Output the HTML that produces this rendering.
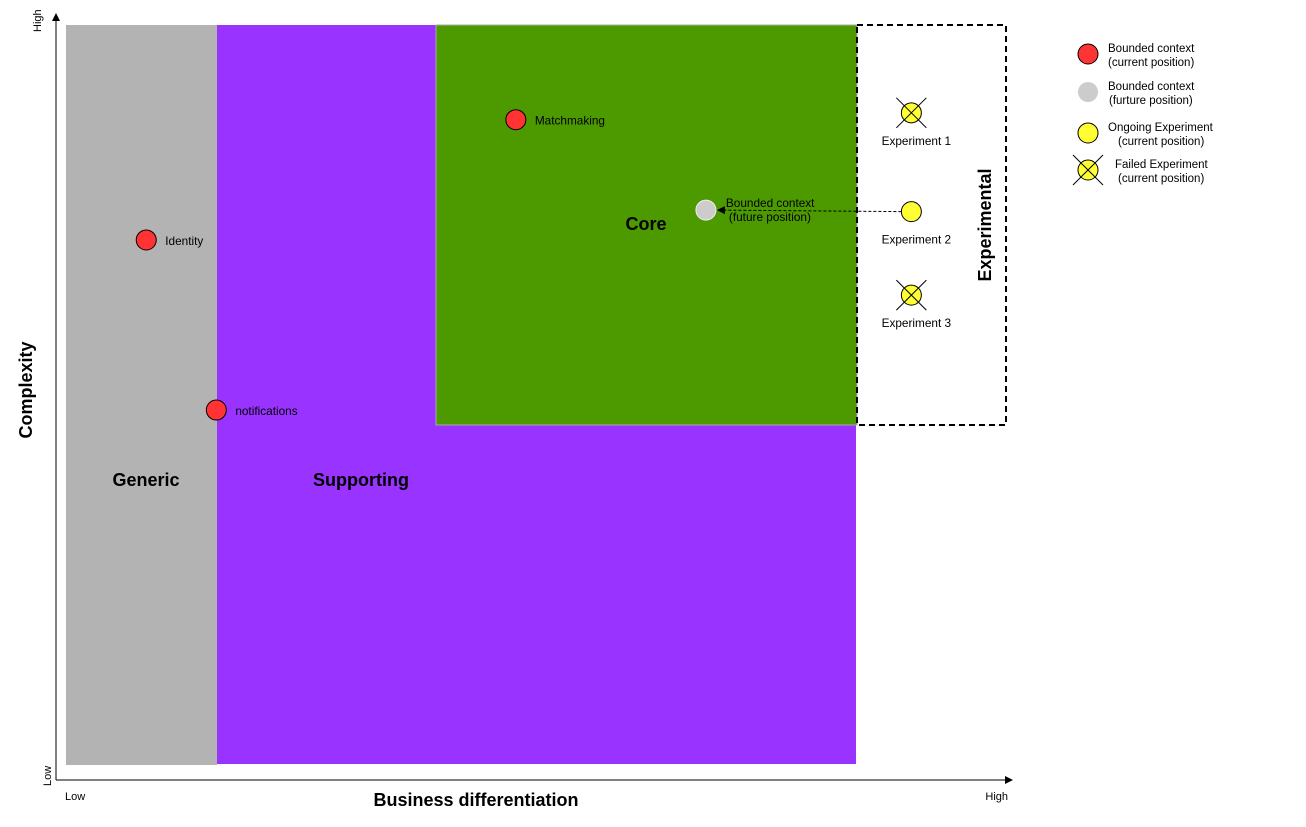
<!DOCTYPE html>
<html><head><meta charset="utf-8"><style>
body{margin:0;background:#fff;}
svg{display:block;font-family:"Liberation Sans",Arial,sans-serif;}
</style></head><body>
<svg width="1306" height="827" viewBox="0 0 1306 827">
<defs><marker id="arr" markerWidth="8" markerHeight="8" refX="7" refY="4" orient="auto"><path d="M0,0 L8,4 L0,8 z" fill="#000"/></marker></defs>
<rect x="66" y="25" width="151" height="740" fill="#b3b3b3"/>
<rect x="217" y="25" width="639" height="739" fill="#9933ff"/>
<rect x="436" y="25" width="421" height="400" fill="#4d9900" stroke="#aaa" stroke-width="1"/>
<rect x="857" y="25" width="149" height="400" fill="none" stroke="#000" stroke-width="2" stroke-dasharray="6,4"/>
<text x="146" y="486" font-size="18" font-weight="bold" text-anchor="middle">Generic</text>
<text x="361" y="486" font-size="18" font-weight="bold" text-anchor="middle">Supporting</text>
<text x="646" y="230" font-size="18" font-weight="bold" text-anchor="middle">Core</text>
<text transform="translate(991,225) rotate(-90)" font-size="18" font-weight="bold" text-anchor="middle">Experimental</text>
<line x1="56" y1="780" x2="1012" y2="780" stroke="#000" marker-end="url(#arr)"/>
<line x1="56" y1="780" x2="56" y2="14" stroke="#000" marker-end="url(#arr)"/>
<text x="476" y="806" font-size="18" font-weight="bold" text-anchor="middle">Business differentiation</text>
<text transform="translate(32,390) rotate(-90)" font-size="18" font-weight="bold" text-anchor="middle">Complexity</text>
<text x="65" y="800" font-size="11">Low</text>
<text x="1008" y="800" font-size="11" text-anchor="end">High</text>
<text transform="translate(51,786) rotate(-90)" font-size="11">Low</text>
<text transform="translate(41,32) rotate(-90)" font-size="11">High</text>
<g id="marks"></g>
<g font-size="11.5">
<circle cx="1088" cy="54" r="10" fill="#ff3333" stroke="#000"/>
<text x="1108" y="52"><tspan x="1108">Bounded context</tspan><tspan x="1108" dy="14">(current position)</tspan></text>
<circle cx="1088" cy="92" r="10" fill="#cccccc"/>
<text x="1108" y="90"><tspan x="1108">Bounded context</tspan><tspan x="1109" dy="14">(furture position)</tspan></text>
<circle cx="1088" cy="133" r="10" fill="#ffff33" stroke="#000"/>
<text x="1108" y="131"><tspan x="1108">Ongoing Experiment</tspan><tspan x="1118" dy="14">(current position)</tspan></text>
<circle cx="1088" cy="170" r="10" fill="#ffff33" stroke="#000"/>
<line x1="1073" y1="155" x2="1103" y2="185" stroke="#000"/><line x1="1103" y1="155" x2="1073" y2="185" stroke="#000"/>
<text x="1115" y="168"><tspan x="1115">Failed Experiment</tspan><tspan x="1118" dy="14">(current position)</tspan></text>
</g>
</svg>
<script>
const contextNames = ["Identity", "notifications", "Matchmaking"];
const contextX = [9.4, 16.7, 47.9];
const contextY = [70.5, 48.3, 86.2];
const futureX = [67.7];
const futureY = [74.4];
const expNames = ["Experiment 1", "Experiment 2", "Experiment 3"];
const expX = [89.1, 89.1, 89.1];
const expY = [87.1, 74.2, 63.3];
const expFailed = [true, false, true];

const sx = v => 56 + v * 9.6;
const sy = v => 780 - v * 7.66;
const NS = "http://www.w3.org/2000/svg";
const g = document.getElementById("marks");
function mk(tag, attrs) { const e = document.createElementNS(NS, tag); for (const k in attrs) e.setAttribute(k, attrs[k]); g.appendChild(e); return e; }

const ax = sx(expX[1]) - 10, ay = sy(expY[1]);
const fx = sx(futureX[0]) + 12, fy = sy(futureY[0]);
const ln = mk("line", {x1: ax, y1: ay, x2: fx, y2: fy, stroke: "#000", "stroke-dasharray": "3,2", "marker-end": "url(#arr)"});



contextNames.forEach((n, i) => {
  const c = mk("circle", {cx: sx(contextX[i]), cy: sy(contextY[i]), r: 10, fill: "#ff3333", stroke: "#000"});
  
  
  const t = mk("text", {x: sx(contextX[i]) + 19, y: sy(contextY[i]) + 5, "font-size": 11.8});
  t.textContent = n;
  
  
});

futureX.forEach((v, i) => {
  const c = mk("circle", {cx: sx(v), cy: sy(futureY[i]), r: 10, fill: "#cccccc", stroke: "#eee"});
  
  
  const t = mk("text", {x: sx(v) + 20, y: sy(futureY[i]) - 3, "font-size": 11.8});
  t.innerHTML = '<tspan x="' + (sx(v) + 20) + '">Bounded context</tspan><tspan x="' + (sx(v) + 23) + '" dy="14">(future position)</tspan>';
  
  
});

expNames.forEach((n, i) => {
  const x = sx(expX[i]), y = sy(expY[i]);
  const c = mk("circle", {cx: x, cy: y, r: 10, fill: "#ffff33", stroke: "#000"});
  
  
  if (expFailed[i]) {
    const a = mk("line", {x1: x - 15, y1: y - 15, x2: x + 15, y2: y + 15, stroke: "#000"});
    
    
    const b = mk("line", {x1: x + 15, y1: y - 15, x2: x - 15, y2: y + 15, stroke: "#000"});
    
    
  }
  const t = mk("text", {x: x + 5, y: y + 32, "font-size": 11.8, "text-anchor": "middle"});
  t.textContent = n;
  
  
});
</script>
</body></html>
